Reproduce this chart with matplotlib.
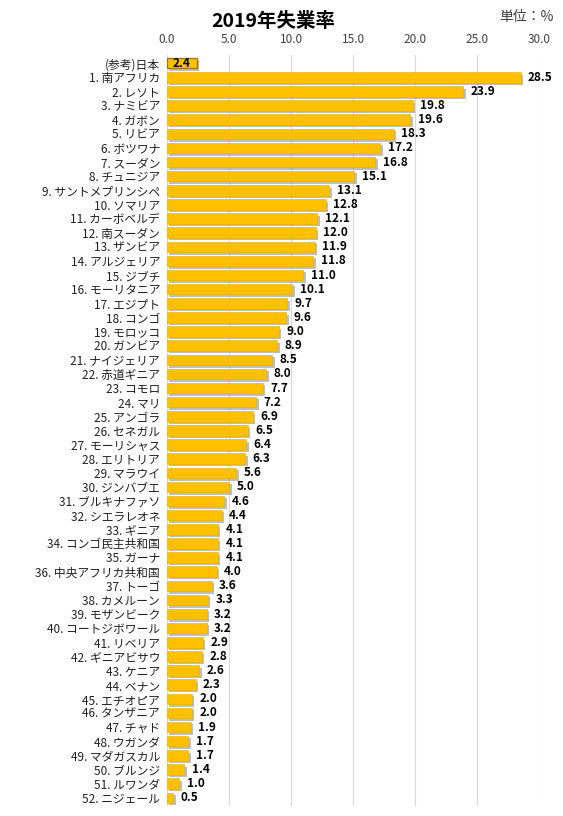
import matplotlib
matplotlib.use("Agg")
import matplotlib.pyplot as plt
import matplotlib.patheffects as pe

plt.rcParams['font.family'] = ['Noto Sans CJK JP', 'DejaVu Sans']

countries = [
    "(参考)日本", "1. 南アフリカ", "2. レソト", "3. ナミビア", "4. ガボン", "5. リビア",
    "6. ボツワナ", "7. スーダン", "8. チュニジア", "9. サントメプリンシペ", "10. ソマリア",
    "11. カーボベルデ", "12. 南スーダン", "13. ザンビア", "14. アルジェリア", "15. ジブチ",
    "16. モーリタニア", "17. エジプト", "18. コンゴ", "19. モロッコ", "20. ガンビア",
    "21. ナイジェリア", "22. 赤道ギニア", "23. コモロ", "24. マリ", "25. アンゴラ",
    "26. セネガル", "27. モーリシャス", "28. エリトリア", "29. マラウイ", "30. ジンバブエ",
    "31. ブルキナファソ", "32. シエラレオネ", "33. ギニア", "34. コンゴ民主共和国",
    "35. ガーナ", "36. 中央アフリカ共和国", "37. トーゴ", "38. カメルーン", "39. モザンビーク",
    "40. コートジボワール", "41. リベリア", "42. ギニアビサウ", "43. ケニア", "44. ベナン",
    "45. エチオピア", "46. タンザニア", "47. チャド", "48. ウガンダ", "49. マダガスカル",
    "50. ブルンジ", "51. ルワンダ", "52. ニジェール",
]
rates = [
    2.4, 28.5, 23.9, 19.8, 19.6, 18.3, 17.2, 16.8, 15.1, 13.1, 12.8,
    12.1, 12.0, 11.9, 11.8, 11.0, 10.1, 9.7, 9.6, 9.0, 8.9,
    8.5, 8.0, 7.7, 7.2, 6.9, 6.5, 6.4, 6.3, 5.6, 5.0,
    4.6, 4.4, 4.1, 4.1, 4.1, 4.0, 3.6, 3.3, 3.2, 3.2,
    2.9, 2.8, 2.6, 2.3, 2.0, 2.0, 1.9, 1.7, 1.7, 1.4, 1.0, 0.5,
]
xticks = [0, 5, 10, 15, 20, 25, 30]

fig = plt.figure(figsize=(5.63, 8.16), dpi=100)
ax = fig.add_axes([0.2966, 0.012, 0.661, 0.921])

y = list(range(len(countries)))
shadow = [pe.SimplePatchShadow(offset=(1.8, -1.8), shadow_rgbFace='#8a8a8a', alpha=0.55), pe.Normal()]
bars = ax.barh(y, rates, height=0.74, color='#FFC000', edgecolor='#E8AE00', linewidth=0.4, zorder=3)
for b in bars:
    b.set_path_effects(shadow)
bars[0].set_edgecolor('#A07400')
bars[0].set_linewidth(0.9)

for i, v in enumerate(rates):
    if i == 0:
        ax.text(v / 2, i, f"{v:.1f}", ha='center', va='center', fontsize=8.5,
                fontweight='bold', zorder=4)
    else:
        ax.text(v + 0.6, i, f"{v:.1f}", ha='left', va='center', fontsize=8.5,
                fontweight='bold', zorder=4)

ax.set_xlim(0, 30)
ax.set_ylim(len(countries) - 0.4, -0.6)
ax.set_xticks(xticks)
ax.set_xticklabels([f"{t:.1f}" for t in xticks], fontsize=8.5, color='#404040')
ax.xaxis.tick_top()
ax.tick_params(axis='x', length=0, pad=6)
ax.set_yticks(y)
ax.set_yticklabels(countries, fontsize=8.5, color='#202020')
ax.tick_params(axis='y', length=0, pad=5)
ax.grid(axis='x', color='#D9D9D9', linewidth=0.8, zorder=0)
for s in ax.spines.values():
    s.set_visible(False)

fig.text(0.485, 0.974, "2019年失業率", ha='center', va='center', fontsize=14, fontweight='bold')
fig.text(0.983, 0.979, "単位：%", ha='right', va='center', fontsize=10, color='#404040')

fig.savefig("out.png", dpi=100)
